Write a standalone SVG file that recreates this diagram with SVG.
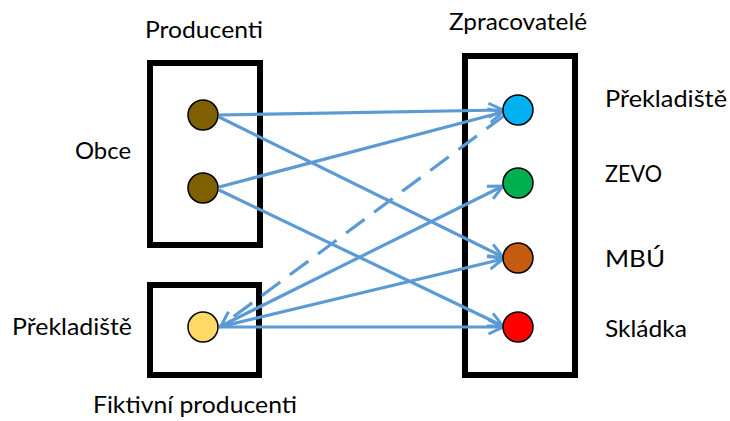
<svg xmlns="http://www.w3.org/2000/svg" width="730" height="421" viewBox="0 0 730 421">
<style>
.box{fill:none;stroke:#000;stroke-width:6}
.node{stroke:#000;stroke-width:1.5}
.lbl{font-family:Lato,"Open Sans","Liberation Sans",sans-serif;font-size:24px;fill:#000}
.edge{fill:none;stroke:#5B9BD5;stroke-width:3.2;marker-end:url(#arr)}
.dash{stroke-dasharray:23 12}
</style>
<defs>
<marker id="arr" markerUnits="userSpaceOnUse" viewBox="0 0 18 18" markerWidth="18" markerHeight="18" refX="16" refY="9" orient="auto">
<path d="M1.5,2 L16,9 L1.5,16" fill="none" stroke="#5B9BD5" stroke-width="3" stroke-linejoin="miter"/>
</marker>
</defs>
<rect width="730" height="421" fill="#fff"/>
<g id="groups">
<rect id="box-producenti" class="box" x="150" y="63" width="110" height="182"/>
<rect id="box-fiktivni" class="box" x="150" y="285" width="109" height="90"/>
<rect id="box-zpracovatele" class="box" x="465" y="56" width="110" height="319"/>
</g>
<g id="labels">
<text class="lbl" x="145" y="38" textLength="118" lengthAdjust="spacingAndGlyphs">Producenti</text>
<text class="lbl" x="449" y="30" textLength="138" lengthAdjust="spacingAndGlyphs">Zpracovatelé</text>
<text class="lbl" x="75" y="159" textLength="56" lengthAdjust="spacingAndGlyphs">Obce</text>
<text class="lbl" x="12" y="335" textLength="120" lengthAdjust="spacingAndGlyphs">Překladiště</text>
<text class="lbl" x="93" y="413" textLength="204" lengthAdjust="spacingAndGlyphs">Fiktivní producenti</text>
</g>
<g id="connectors">
<path class="edge" d="M219,115 L503,110"/>
<path class="edge" d="M219,117 L503,257"/>
<path class="edge" d="M219,187 L503,112"/>
<path class="edge" d="M219,190 L503,326"/>
<path class="edge" d="M219,327 L503,186"/>
<path class="edge" d="M219,327 L503,259"/>
<path class="edge" d="M219,327 L503,327"/>
<path class="edge dash" d="M505,115 L221,326"/>
</g>
<g id="node-obec1"><circle class="node" cx="203" cy="115" r="15" fill="#7F6000"/></g>
<g id="node-obec2"><circle class="node" cx="203" cy="188" r="15" fill="#7F6000"/></g>
<g id="node-prekladiste-f"><circle class="node" cx="203" cy="327" r="15" fill="#FFD966"/></g>
<g id="node-prekladiste"><circle class="node" cx="518" cy="110" r="15" fill="#00B0F0"/>
<text class="lbl" x="605" y="107" textLength="122" lengthAdjust="spacingAndGlyphs">Překladiště</text></g>
<g id="node-zevo"><circle class="node" cx="518" cy="183" r="15" fill="#00B050"/>
<text class="lbl" x="605" y="182" textLength="57" lengthAdjust="spacingAndGlyphs">ZEVO</text></g>
<g id="node-mbu"><circle class="node" cx="518" cy="258" r="15" fill="#C55A11"/>
<text class="lbl" x="605" y="267" textLength="60" lengthAdjust="spacingAndGlyphs">MBÚ</text></g>
<g id="node-skladka"><circle class="node" cx="518" cy="327" r="15" fill="#FF0000"/>
<text class="lbl" x="605" y="337" textLength="82" lengthAdjust="spacingAndGlyphs">Skládka</text></g>
</svg>
